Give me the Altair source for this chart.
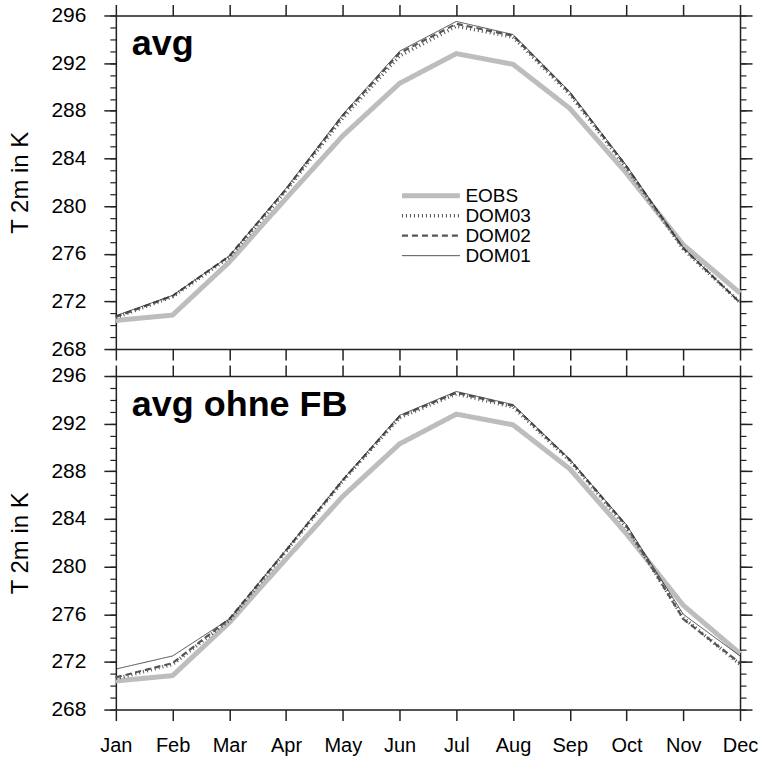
import altair as alt
import pandas as pd

months = ["Jan", "Feb", "Mar", "Apr", "May", "Jun", "Jul", "Aug", "Sep", "Oct", "Nov", "Dec"]

eobs = [270.4, 270.85, 275.3, 280.65, 285.9, 290.3, 292.8, 291.9, 288.2, 282.75, 276.75, 272.7]

top_dom01 = [270.8, 272.5, 275.8, 281.5, 287.7, 293.0, 295.5, 294.4, 289.6, 283.4, 276.5, 271.9]
top_dom02 = [270.7, 272.45, 275.8, 281.4, 287.6, 292.85, 295.3, 294.3, 289.5, 283.3, 276.45, 271.9]
top_dom03 = [270.65, 272.4, 275.7, 281.3, 287.4, 292.6, 295.1, 294.2, 289.4, 283.2, 276.4, 271.9]

bot_dom01 = [271.4, 272.5, 275.6, 281.4, 287.3, 292.7, 294.7, 293.6, 289.0, 283.5, 276.0, 272.5]
bot_dom02 = [270.7, 271.9, 275.6, 281.35, 287.25, 292.6, 294.6, 293.5, 288.95, 283.4, 275.6, 271.9]
bot_dom03 = [270.6, 271.8, 275.5, 281.3, 287.2, 292.5, 294.5, 293.4, 288.9, 283.3, 275.7, 271.8]

series_order = ["EOBS", "DOM03", "DOM02", "DOM01"]
series_colors = ["#bdbdbd", "#555555", "#555555", "#222222"]
series_dash = [[1, 0], [1, 3], [6, 4], [1, 0]]
series_width = [5, 0.8, 0.8, 0.8]

panel_titles = ["avg", "avg ohne FB"]
y_title = "T 2m in K"
y_major = list(range(268, 297, 4))
y_minor = list(range(268, 297))

W, H = 625, 334
FONT = "Liberation Sans"
AX = "#222222"


def make_df(d01, d02, d03):
    rows = []
    for name, vals in [("EOBS", eobs), ("DOM03", d03), ("DOM02", d02), ("DOM01", d01)]:
        for m, v in zip(months, vals):
            rows.append({"month": m, "value": v, "series": name})
    return pd.DataFrame(rows)


def panel(df, label, top):
    xscale = alt.Scale(type="point", padding=0, domain=months)
    yscale = alt.Scale(domain=[268, 296], nice=False, zero=False)
    common = dict(domainColor=AX, domainWidth=1.5, tickColor=AX, tickWidth=1.5,
                  grid=False, labelFont=FONT, labelColor="black")

    if top:
        leg = alt.Legend(title=None, orient="none", legendX=331, legendY=171,
                         symbolType="M-13.5,0H1", symbolSize=64, labelFontSize=19,
                         labelFont=FONT, labelColor="black", labelOffset=0,
                         rowPadding=-4, padding=0)
    else:
        leg = None

    color = alt.Color("series:N", scale=alt.Scale(domain=series_order, range=series_colors), legend=leg)
    dash = alt.StrokeDash("series:N", scale=alt.Scale(domain=series_order, range=series_dash), legend=leg)
    sw = alt.StrokeWidth("series:N", scale=alt.Scale(domain=series_order, range=series_width), legend=leg)

    x_bottom = alt.X("month:N", sort=months, scale=xscale, title=None,
                     axis=alt.Axis(orient="bottom", labels=not top, labelFontSize=20,
                                   labelPadding=15, labelAngle=0, tickSize=11, **common))
    x_top = alt.X("month:N", sort=months, scale=xscale, title=None,
                  axis=alt.Axis(orient="top", labels=False, tickSize=11, **common))
    x_none = alt.X("month:N", sort=months, scale=xscale, axis=None)

    y_left = alt.Y("value:Q", scale=yscale,
                   axis=alt.Axis(orient="left", values=y_major, tickSize=12, labelPadding=18,
                                 labelFontSize=21, title=y_title, titleFont=FONT,
                                 titleFontSize=24, titleFontWeight="normal", titleColor="black",
                                 titleX=-88, titleY=H / 2, titleAngle=270,
                                 titleBaseline="alphabetic", titleAlign="center", **common))
    y_right = alt.Y("value:Q", scale=yscale,
                    axis=alt.Axis(orient="right", values=y_major, tickSize=12, labels=False,
                                  title=None, **common))
    y_left_minor = alt.Y("value:Q", scale=yscale,
                         axis=alt.Axis(orient="left", values=y_minor, tickSize=6, labels=False,
                                       domain=False, title=None, tickColor=AX, tickWidth=1.2,
                                       grid=False))
    y_right_minor = alt.Y("value:Q", scale=yscale,
                          axis=alt.Axis(orient="right", values=y_minor, tickSize=6, labels=False,
                                        domain=False, title=None, tickColor=AX, tickWidth=1.2,
                                        grid=False))

    base = alt.Chart(df)
    obs = base.transform_filter(alt.datum.series == "EOBS").mark_line().encode(
        x=x_bottom, y=y_left, color=color, strokeDash=dash, strokeWidth=sw)
    doms = base.transform_filter(alt.datum.series != "EOBS").mark_line().encode(
        x=x_top, y=y_right, color=color, strokeDash=dash, strokeWidth=sw)
    minor_l = base.mark_line(opacity=0).encode(x=x_none, y=y_left_minor)
    minor_r = base.mark_line(opacity=0).encode(x=x_none, y=y_right_minor)
    txt = alt.Chart(pd.DataFrame({"t": [label]})).mark_text(
        align="left", baseline="alphabetic", fontSize=36, fontWeight="bold",
        font=FONT, color="black").encode(text="t:N", x=alt.value(16), y=alt.value(40))

    return alt.layer(obs, doms, minor_l, minor_r, txt).resolve_axis(
        x="independent", y="independent").properties(width=W, height=H)


top_chart = panel(make_df(top_dom01, top_dom02, top_dom03), panel_titles[0], True)
bot_chart = panel(make_df(bot_dom01, bot_dom02, bot_dom03), panel_titles[1], False)

chart = alt.vconcat(top_chart, bot_chart, spacing=27, bounds="flush").resolve_scale(
    color="independent", strokeDash="independent", strokeWidth="independent"
).properties(padding={"left": 8, "top": 2, "right": 0, "bottom": 0}).configure_view(
    stroke=None).configure(font=FONT)

chart.save("out.html", embed_options={"renderer": "svg", "actions": False})
